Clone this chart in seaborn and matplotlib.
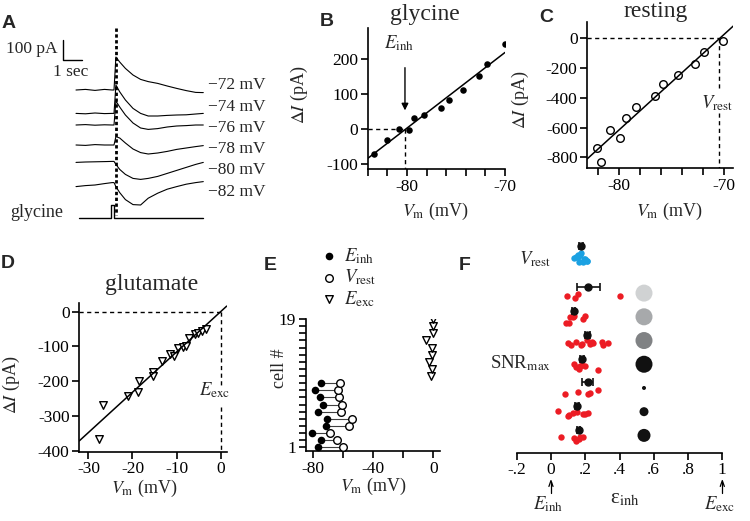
import numpy as np
import pandas as pd
import matplotlib
matplotlib.use("Agg")
import matplotlib.pyplot as plt
import seaborn as sns

# ─────────────────────────────────────────────
# DATA
# ─────────────────────────────────────────────
# A: glycine-evoked currents at six holding potentials (pA, relative to baseline)
trace_t = [0.0, 0.5, 1.0, 1.5, 1.9, 2.0, 2.1, 2.3, 2.6, 3.0, 3.4, 3.8, 4.3, 4.8, 5.3, 5.8, 6.3, 6.7]
trace_labels = ["\u221272 mV", "\u221274 mV", "\u221276 mV", "\u221278 mV", "\u221280 mV", "\u221282 mV"]
trace_72 = [0, 3, -2, 3, 0, 0, 165, 140, 108, 75, 53, 42, 33, 20, 8, -3, -12, -13]
trace_74 = [0, -2, 2, -1, 0, 0, 142, 108, 67, 25, 0, -13, -13, -10, -8, -7, -3, 0]
trace_76 = [0, 2, -1, 1, 0, 0, 120, 90, 50, 10, -15, -22, -18, -10, -5, -3, 0, 0]
trace_78 = [0, -2, 2, 0, 0, 0, 42, 35, 10, -20, -38, -45, -40, -32, -22, -15, -8, -3]
trace_80 = [0, 2, 3, 4, 5, 5, -10, -35, -60, -80, -85, -80, -70, -55, -40, -25, -10, 0]
trace_82 = [0, 5, 8, 15, 20, 20, 0, -30, -65, -90, -92, -58, -33, -13, 0, 12, 20, 25]
glycine_on, glycine_off = 1.84, 2.0

# B: glycine I-V
b_vm = [-83.4, -82.0, -80.8, -79.8, -79.3, -78.3, -76.5, -75.7, -74.3, -72.7, -71.8, -70.0]
b_di = [-71, -31, 0, -2, 31, 40, 60, 84, 112, 152, 186, 244]
e_inh_b = -80.2

# C: resting I-V
c_vm = [-82.1, -81.7, -80.9, -79.9, -79.4, -78.4, -76.6, -75.8, -74.4, -72.8, -71.9, -70.1]
c_di = [-739, -829, -614, -670, -538, -460, -386, -309, -247, -173, -92, -16]
v_rest_c = -70.5

# D: glutamate I-V
d_vm = [-26.6, -27.5, -21.1, -18.5, -18.7, -15.4, -15.4, -13.2, -11.5, -10.6,
        -9.6, -8.6, -7.9, -7.3, -5.8, -5.1, -4.3, -3.4]
d_di = [-268, -367, -243, -199, -230, -173, -185, -142, -123, -127,
        -104, -102, -98, -77, -64, -60, -56, -51]
e_exc_d = 0.0

# E: per-cell reversal / resting potentials
cells_inh = list(range(1, 11))
e_inh_cells = [-77.1, -75.1, -81.1, -71.8, -71.1, -76.7, -73.8, -75.5, -78.9, -75.1]
v_rest_cells = [-60.4, -64.2, -69.1, -56.2, -54.4, -61.5, -61.1, -62.9, -63.8, -62.2]
cells_exc = list(range(11, 20))
e_exc_cells = [-1.3, -0.8, -2.7, -0.8, -0.8, -4.9, -0.4, -0.4, -0.4]

# F: normalised inhibitory reversal (eps_inh)
vrest_eps = [0.136, 0.155, 0.171, 0.19, 0.175, 0.2, 0.155, 0.186, 0.166, 0.213, 0.209, 0.147]
vrest_mean, vrest_sem = 0.175, 0.012
row_eps = [
    [0.093, 0.142, 0.155, 0.400],
    [0.089, 0.103, 0.112, 0.128, 0.137, 0.186, 0.200],
    [0.097, 0.116, 0.147, 0.175, 0.180, 0.213, 0.225, 0.239, 0.248, 0.297, 0.306, 0.330],
    [0.132, 0.147, 0.161, 0.171, 0.180, 0.200, 0.277],
    [0.083, 0.155, 0.219, 0.225, 0.277],
    [0.039, 0.097, 0.108, 0.128, 0.151, 0.186, 0.200, 0.219],
    [0.058, 0.132, 0.147, 0.161, 0.171, 0.186],
]
row_mean = [0.219, 0.132, 0.213, 0.180, 0.215, 0.151, 0.161]
row_sem = [0.068, 0.010, 0.015, 0.010, 0.031, 0.010, 0.010]
snr_size = [17, 17, 17, 17, 4, 9, 13]
snr_shade = ["#d0d2d3", "#a7a9ab", "#808284", "#111111", "#111111", "#111111", "#111111"]

# ─────────────────────────────────────────────
# STYLE
# ─────────────────────────────────────────────
sns.set_style("ticks")
plt.rcParams.update({
    "font.family": ["Liberation Serif", "DejaVu Serif"],
    "mathtext.fontset": "stix",
    "axes.unicode_minus": False,
    "font.size": 12.5,
    "axes.linewidth": 1.2,
    "xtick.major.width": 1.2,
    "ytick.major.width": 1.2,
    "xtick.major.size": 5,
    "ytick.major.size": 5,
    "xtick.labelsize": 12.5,
    "ytick.labelsize": 12.5,
    "axes.labelsize": 13,
    "xtick.color": "black",
    "ytick.color": "black",
    "axes.edgecolor": "black",
})

W, H = 750, 521
fig = plt.figure(figsize=(W / 100, H / 100), dpi=100)


def px_axes(left, top, right, bottom):
    return fig.add_axes([left / W, 1 - bottom / H, (right - left) / W, (bottom - top) / H])


def letter(x, y, s):
    fig.text(x / W, 1 - y / H, s, family="Liberation Sans", weight="bold",
             fontsize=14, ha="center", va="center")


def clean(ax):
    sns.despine(ax=ax)
    ax.tick_params(direction="out", pad=2)


DI_LABEL = r"$\Delta I$ (pA)"
VM_LABEL = r"$V_{\rm m}$ (mV)"

# ─────────────────────────────────────────────
# A — current traces
# ─────────────────────────────────────────────
axA = px_axes(0, 20, 250, 230)
axA.axis("off")
axA.set_xlim(-4.0, 9.158)
axA.set_ylim(-700, 350)
trace_offsets = [0, -117, -175, -275, -362, -483]
label_y = [25, -85, -190, -295, -400, -510]
traces = [trace_72, trace_74, trace_76, trace_78, trace_80, trace_82]
for vals, off, lab, ly in zip(traces, trace_offsets, trace_labels, label_y):
    sns.lineplot(x=trace_t, y=np.array(vals) + off, ax=axA, color="k", lw=0.8)
    axA.text(6.95, ly, lab, ha="left", va="center", fontsize=12.5)
axA.plot([2.1, 2.1], [310, -625], color="k", lw=2, ls=(0, (1.2, 0.9)))
# scale bar
axA.plot([-0.68, -0.68, 0.32], [250, 150, 150], color="k", lw=1)
axA.text(-0.95, 205, "100 pA", ha="right", va="center", fontsize=12.5)
axA.text(-0.3, 92, "1 sec", ha="center", va="center", fontsize=12.5)
# glycine puff
stim_base, stim_top = -640, -575
axA.plot([0.16, glycine_on, glycine_on, glycine_off, glycine_off, 6.68],
         [stim_base, stim_base, stim_top, stim_top, stim_base, stim_base], color="k", lw=1)
axA.text(-3.47, -612, "glycine", ha="left", va="center", fontsize=13)
letter(9, 23, "A")

# ─────────────────────────────────────────────
# B — glycine I-V
# ─────────────────────────────────────────────
axB = px_axes(367.7, 28, 505, 169.3)
axB.set_xlim(-84, -70)
axB.set_ylim(-114.3, 289.4)
sns.regplot(x=b_vm, y=b_di, ax=axB, ci=None, truncate=False,
            scatter_kws=dict(s=22, color="k", linewidths=0, alpha=1),
            line_kws=dict(color="k", lw=1.1))
axB.set_xlim(-84, -70)
axB.set_ylim(-114.3, 289.4)
axB.plot([-84, e_inh_b], [0, 0], "k--", lw=1, dashes=(3, 2.5))
axB.plot([e_inh_b, e_inh_b], [0, -114.3], "k--", lw=1, dashes=(3, 2.5))
axB.annotate("", xy=(e_inh_b, 46), xytext=(e_inh_b, 184),
             arrowprops=dict(arrowstyle="-|>", color="k", lw=1, mutation_scale=10))
axB.text(-80.78, 232, r"$E_{\rm inh}$", ha="center", va="baseline", fontsize=13.5)
axB.set_xticks(np.arange(-84, -69, 2))
axB.set_xticklabels(["" if v not in (-80, -70) else str(v) for v in range(-84, -69, 2)])
axB.set_yticks([-100, 0, 100, 200])
axB.set_xlabel(VM_LABEL)
axB.set_ylabel(DI_LABEL)
axB.xaxis.set_label_coords(0.49, -0.222)
axB.yaxis.set_label_coords(-0.42, 0.526)
axB.text(0.417, 1.057, "glycine", transform=axB.transAxes, ha="center", va="baseline", fontsize=17)
clean(axB)
letter(327, 22, "B")

# ─────────────────────────────────────────────
# C — resting I-V
# ─────────────────────────────────────────────
axC = px_axes(587.3, 21.7, 733.3, 168.3)
axC.set_xlim(-83.05, -69.1)
axC.set_ylim(-874, 112)
sns.regplot(x=c_vm, y=c_di, ax=axC, ci=None, truncate=False,
            scatter_kws=dict(s=30, facecolors="white", edgecolors="k", linewidths=1, alpha=1),
            line_kws=dict(color="k", lw=1.1))
axC.set_xlim(-83.05, -69.1)
axC.set_ylim(-874, 112)
axC.plot([-83.05, v_rest_c], [0, 0], "k--", lw=1, dashes=(3, 2.5))
axC.plot([v_rest_c, v_rest_c], [0, -347], "k--", lw=1, dashes=(3, 2.5))
axC.plot([v_rest_c, v_rest_c], [-502, -874], "k--", lw=1, dashes=(3, 2.5))
axC.text(-69.1, -468, r"$V_{\rm rest}$", ha="right", va="baseline", fontsize=13.5)
axC.set_xticks(np.arange(-82, -69, 2))
axC.set_xticklabels(["" if v not in (-80, -70) else str(v) for v in range(-82, -69, 2)])
axC.set_yticks([-800, -600, -400, -200, 0])
axC.set_xlabel(VM_LABEL)
axC.set_ylabel(DI_LABEL)
axC.xaxis.set_label_coords(0.56, -0.22)
axC.yaxis.set_label_coords(-0.386, 0.466)
axC.text(0.47, 1.032, "resting", transform=axC.transAxes, ha="center", va="baseline", fontsize=17)
clean(axC)
letter(546, 18, "C")

# ─────────────────────────────────────────────
# D — glutamate I-V
# ─────────────────────────────────────────────
axD = px_axes(79.3, 303.3, 226.7, 451.7)
axD.set_xlim(-32.06, 1.36)
axD.set_ylim(-402.9, 24.2)
sns.regplot(x=d_vm, y=d_di, ax=axD, ci=None, truncate=False, marker="v",
            scatter_kws=dict(s=30, facecolors="white", edgecolors="k", linewidths=1, alpha=1),
            line_kws=dict(color="k", lw=1.1))
axD.set_xlim(-32.06, 1.36)
axD.set_ylim(-402.9, 24.2)
axD.plot([-32.06, e_exc_d], [0, 0], "k--", lw=1, dashes=(3, 2.5))
axD.plot([e_exc_d, e_exc_d], [0, -211], "k--", lw=1, dashes=(3, 2.5))
axD.plot([e_exc_d, e_exc_d], [-273, -402.9], "k--", lw=1, dashes=(3, 2.5))
axD.text(2.1, -240, r"$E_{\rm exc}$", ha="right", va="baseline", fontsize=13.5)
axD.set_xticks([-30, -20, -10, 0])
axD.set_yticks([-400, -300, -200, -100, 0])
axD.set_xlabel(VM_LABEL)
axD.set_ylabel(DI_LABEL)
axD.xaxis.set_label_coords(0.439, -0.175)
axD.yaxis.set_label_coords(-0.389, 0.449)
axD.text(0.493, 1.09, "glutamate", transform=axD.transAxes, ha="center", va="baseline", fontsize=17)
clean(axD)
letter(8, 264, "D")

# ─────────────────────────────────────────────
# E — per-cell potentials
# ─────────────────────────────────────────────
axE = px_axes(306, 319, 440, 451)
axE.hlines(cells_inh, e_inh_cells, v_rest_cells, color="0.25", lw=0.8, zorder=1)
sns.scatterplot(x=e_inh_cells, y=cells_inh, ax=axE, s=30, color="k", linewidth=0,
                label=r"$E_{\rm inh}$", zorder=3)
sns.scatterplot(x=v_rest_cells, y=cells_inh, ax=axE, s=30, facecolor="white",
                edgecolor="k", linewidth=1, label=r"$V_{\rm rest}$", zorder=3)
sns.scatterplot(x=e_exc_cells, y=cells_exc, ax=axE, s=30, marker="v", facecolor="white",
                edgecolor="k", linewidth=1, label=r"$E_{\rm exc}$", zorder=3)
axE.set_xlim(-84.9, 4.4)
axE.set_ylim(0.48, 19)
axE.set_xticks([-80, -60, -40, -20, 0])
axE.set_xticklabels(["-80", "", "-40", "", "0"])
axE.set_yticks(range(1, 20))
axE.set_yticklabels(["1"] + [""] * 17 + ["19"])
axE.set_xlabel(VM_LABEL)
axE.set_ylabel("cell #")
axE.xaxis.set_label_coords(0.5, -0.19)
axE.yaxis.set_label_coords(-0.134, 0.629)
axE.legend(loc="upper left", bbox_to_anchor=(320 / W, 1 - 246 / H),
           bbox_transform=fig.transFigure, frameon=False, borderpad=0,
           handlelength=1.0, handletextpad=0.3, labelspacing=0.1, fontsize=13.5,
           borderaxespad=0)
clean(axE)
letter(270, 266, "E")

# ─────────────────────────────────────────────
# F — normalised eps_inh
# ─────────────────────────────────────────────
axF = px_axes(516.7, 235, 722.3, 452.7)
row_pos = np.arange(len(row_eps))
vrest_pos = -1.56
red_df = pd.DataFrame({
    "eps": [v for vals in row_eps for v in vals],
    "row": [p for p, vals in zip(row_pos, row_eps) for _ in vals],
})
np.random.seed(3)
sns.stripplot(data=red_df, x="eps", y="row", orient="h", native_scale=True,
              jitter=0.16, color="#ec1c24", size=4.6, linewidth=0, ax=axF, zorder=2)
sns.stripplot(x=vrest_eps, y=[vrest_pos] * len(vrest_eps), orient="h", native_scale=True,
              jitter=0.28, color="#1ba1e2", size=4.6, linewidth=0, ax=axF, zorder=2)
axF.errorbar(row_mean, row_pos - 0.36, xerr=row_sem, fmt="o", color="#111111", ms=5,
             capsize=3, elinewidth=1.2, capthick=1.2, zorder=4)
axF.errorbar([vrest_mean], [vrest_pos - 0.56], xerr=[vrest_sem], fmt="o", color="#111111",
             ms=5, capsize=3, elinewidth=1.2, capthick=1.2, zorder=4)
axF.scatter([0.543] * len(snr_size), row_pos - 0.12, s=(np.array(snr_size) / 1.389) ** 2,
            c=snr_shade, linewidths=0, zorder=3)
axF.set_xlim(-0.2, 1.0)
axF.set_ylim(6.61, -2.57)
axF.set_ylabel("")
axF.set_xlabel("")
axF.set_yticks([])
axF.set_xticks([-0.2, 0, 0.2, 0.4, 0.6, 0.8, 1.0])
axF.set_xticklabels(["-.2", "0", ".2", ".4", ".6", ".8", "1"])
sns.despine(ax=axF, left=True)
axF.tick_params(direction="out", pad=2)
axF.text(0.0, -1.35, r"$V_{\rm rest}$", ha="right", va="baseline", fontsize=13.5)
axF.text(0.0, 3.04, r"SNR$_{\rm max}$", ha="right", va="baseline", fontsize=13.5)
trans_f = axF.get_xaxis_transform()
for xv, lab in [(0.0, r"$E_{\rm inh}$"), (1.0, r"$E_{\rm exc}$")]:
    axF.plot([xv, xv], [-0.185, -0.135], color="k", lw=0.9, transform=trans_f, clip_on=False)
    axF.plot([xv - 0.012, xv, xv + 0.012], [-0.155, -0.128, -0.155], color="k", lw=0.9,
             transform=trans_f, clip_on=False)
    axF.text(xv - 0.015, -0.19, lab, transform=trans_f, ha="center", va="top", fontsize=13.5)
axF.text(0.433, -0.17, r"ε$_{\rm inh}$", transform=trans_f,
         ha="center", va="top", fontsize=15)
letter(465, 266, "F")

fig.savefig("out.png", dpi=100)
